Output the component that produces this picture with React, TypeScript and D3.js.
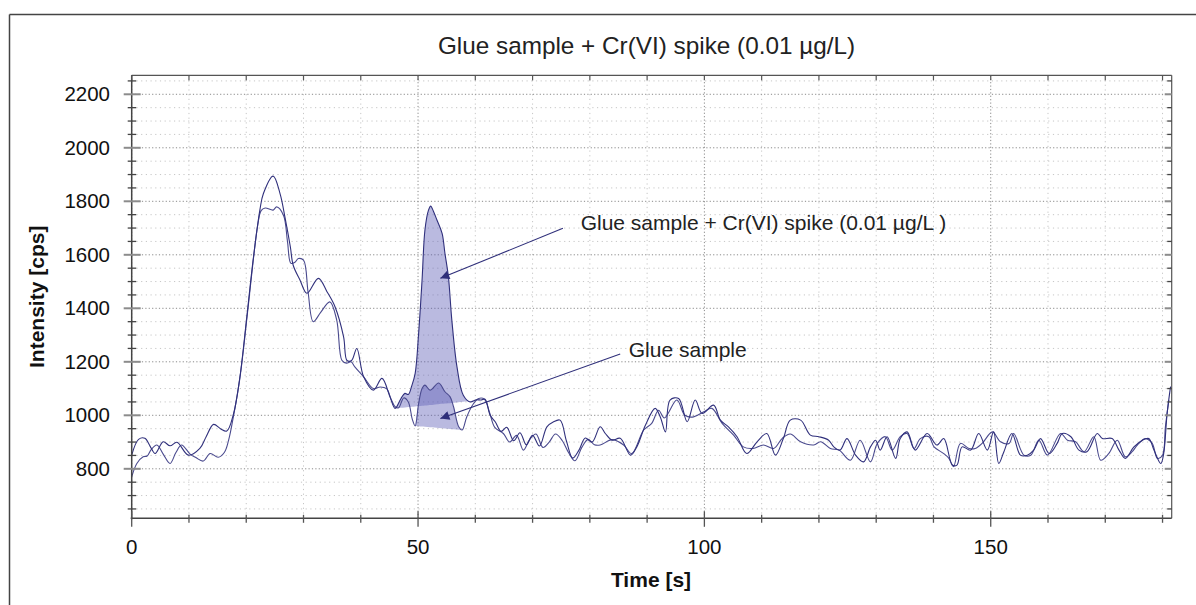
import React from "react";
import * as d3 from "d3";

// ---- data (time [s], intensity [cps]) ----
const spikeSeries: [number, number][] = [
  [0, 851], [1.2, 910], [2.3, 914], [3.2, 885], [4.1, 857], [5.5, 901], [6.7, 886], [7.9, 899], [9.9, 851],
  [11.9, 876], [13.0, 920], [14.3, 966], [15.5, 950], [16.6, 941], [17.8, 1007], [18.9, 1144], [20.1, 1368],
  [21.2, 1580], [22.4, 1770], [23.0, 1829], [24.7, 1894], [25.9, 1829], [26.8, 1736], [27.7, 1630], [28.2, 1561],
  [29.4, 1505], [30.6, 1456], [32.6, 1512], [34.1, 1462], [35.5, 1406], [37.0, 1293], [37.6, 1205], [38.4, 1205],
  [39.3, 1250], [40.5, 1144], [42.2, 1094], [43.7, 1138], [45.1, 1069], [46.0, 1026], [47.0, 1062], [47.7, 1082],
  [48.3, 1078], [48.9, 1110], [49.5, 1157], [50.1, 1306], [50.7, 1505], [51.2, 1692], [51.8, 1765], [52.2, 1782],
  [52.7, 1762], [53.3, 1730], [54.2, 1680], [54.7, 1605], [55.3, 1518], [55.9, 1356], [56.8, 1181], [57.9, 1075],
  [59.1, 1050], [60.2, 1058], [61.0, 1057], [61.7, 1060], [62.6, 1000], [63.5, 975], [64.5, 940], [65.5, 955],
  [66.7, 905], [67.8, 935], [68.9, 890], [70.0, 925], [71.2, 885], [72.5, 957], [73.6, 975], [74.8, 982],
  [75.9, 905], [77.0, 840], [78.1, 870], [79.2, 915], [80.4, 900], [81.8, 957], [82.7, 932], [83.9, 907],
  [85.3, 914], [87.1, 851], [88.2, 882], [89.7, 963], [91.4, 1026], [92.3, 994], [93.2, 938], [94.0, 1057],
  [95.5, 1063], [97.0, 976], [98.4, 1057], [99.6, 1007], [101.6, 1038], [102.8, 982], [104.2, 957], [105.7, 920],
  [107.4, 857], [109.2, 901], [110.9, 932], [112.4, 851], [113.8, 914], [115.0, 982], [116.8, 982], [118.5, 926],
  [120.0, 920], [121.7, 907], [122.6, 882], [123.7, 870], [124.9, 913], [126.4, 851], [127.8, 826], [129.0, 882],
  [129.9, 907], [130.7, 870], [131.9, 920], [133.4, 839], [134.2, 913], [135.4, 938], [136.8, 870], [138.9, 932],
  [140.6, 889], [141.8, 913], [143.3, 814], [144.1, 814], [145.0, 882], [146.5, 870], [147.9, 932], [149.4, 870],
  [150.5, 938], [151.4, 820], [152.3, 864], [153.7, 932], [155.2, 851], [156.4, 851], [157.5, 870], [158.7, 913],
  [160.2, 857], [161.6, 895], [162.5, 932], [164.0, 920], [165.4, 870], [166.8, 864], [168.6, 932], [169.5, 913],
  [171.2, 913], [172.4, 870], [173.5, 839], [175.0, 882], [176.5, 907], [177.6, 913], [178.5, 870], [179.7, 820],
  [180.2, 857], [180.8, 1007], [181.4, 1107],
];

const glueSeries: [number, number][] = [
  [0, 770], [0.9, 820], [2.0, 845], [2.7, 848], [3.4, 872], [4.4, 889], [5.5, 855], [6.7, 820], [7.7, 860],
  [8.7, 889], [10.2, 855], [11.2, 842], [12.5, 829], [13.7, 857], [15.1, 843], [16.2, 862], [16.9, 905],
  [17.8, 1000], [18.9, 1140], [20.1, 1360], [21.2, 1575], [22.0, 1710], [22.6, 1765], [23.3, 1775], [24.7, 1767],
  [25.3, 1779], [26.5, 1748], [27.2, 1650], [27.8, 1568], [28.5, 1572], [29.1, 1586], [30.0, 1580], [30.8, 1460],
  [31.7, 1350], [33.0, 1385], [34.6, 1424], [35.8, 1356], [36.7, 1206], [37.5, 1195], [38.3, 1200], [39.0, 1180],
  [40.5, 1144], [42.2, 1100], [43.4, 1106], [44.5, 1100], [45.3, 1060], [46.0, 1032], [46.6, 1028], [47.5, 1065],
  [48.3, 1050], [49.0, 985], [49.5, 960], [50.1, 1044], [50.7, 1100], [51.2, 1113], [52.1, 1094], [53.6, 1121],
  [54.7, 1088], [55.6, 1069], [56.2, 1032], [57.1, 957], [57.7, 945], [58.5, 994], [59.7, 1044], [60.6, 1063],
  [61.6, 1060], [62.5, 1010], [63.4, 955], [64.9, 932], [66.0, 900], [67.2, 925], [68.4, 870], [69.5, 910],
  [70.6, 930], [71.8, 880], [72.9, 900], [74.0, 930], [75.2, 905], [76.3, 860], [77.4, 830], [78.6, 880],
  [79.7, 910], [80.8, 890], [81.8, 889], [83.9, 909], [85.9, 889], [87.3, 857], [89.4, 945], [90.8, 970],
  [92.0, 1019], [93.0, 990], [95.2, 1057], [96.6, 1000], [98.1, 994], [99.9, 1013], [101.3, 1026], [103.1, 970],
  [105.1, 926], [106.8, 882], [108.5, 876], [110.3, 889], [112.1, 876], [113.6, 914], [115.0, 930], [116.8, 901],
  [119.1, 889], [120.3, 901], [122.0, 876], [123.5, 870], [125.5, 832], [127.2, 907], [129.0, 826], [130.2, 895],
  [131.6, 920], [132.8, 870], [134.2, 920], [135.4, 932], [136.6, 876], [137.7, 913], [139.2, 920], [140.1, 882],
  [141.8, 857], [142.7, 839], [143.5, 808], [144.7, 895], [146.2, 876], [147.3, 876], [148.5, 895], [150.3, 938],
  [151.7, 901], [153.2, 895], [154.0, 932], [155.8, 851], [157.0, 851], [158.4, 907], [159.9, 851], [162.2, 932],
  [163.4, 907], [164.8, 901], [166.3, 864], [168.0, 920], [169.2, 832], [170.6, 857], [172.1, 907], [173.5, 845],
  [174.7, 864], [175.6, 889], [177.0, 913], [178.2, 895], [179.1, 839], [180.0, 851], [180.5, 957], [181.1, 1057],
];

// integration windows [t0, t1] and baseline intensities [v0, v1]
const spikeWindow = [46.0, 61.0];
const spikeBaseline = [1026, 1057];
const glueWindow = [49.5, 57.7];
const glueBaseline = [960, 945];

const xTicksMajor = [0, 50, 100, 150];
const yTicksMajor = [800, 1000, 1200, 1400, 1600, 1800, 2000, 2200];

const titleText = "Glue sample + Cr(VI) spike (0.01 µg/L)";
const xLabel = "Time [s]";
const yLabel = "Intensity [cps]";

// annotations: text, text anchor point (t, v), arrow start (t, v), arrow tip (t, v)
const annoTexts = ["Glue sample + Cr(VI) spike (0.01 µg/L )", "Glue sample"];
const annoTextPos: [number, number][] = [[78.4, 1692], [86.8, 1219]];
const annoArrowFrom: [number, number][] = [[75.3, 1699], [85.3, 1229]];
const annoArrowTo: [number, number][] = [[53.9, 1512], [53.9, 988]];

export default function App() {
  const W = 1196, H = 605;
  const left = 131.7, right = 1171.7, top = 75.3, bottom = 518.3;
  const x = d3.scaleLinear().domain([0, 181.6]).range([left, right]);
  const y = d3.scaleLinear().domain([615, 2271]).range([bottom, top]);

  const line = d3.line<[number, number]>().x(d => x(d[0])).y(d => y(d[1])).curve(d3.curveCatmullRom.alpha(0.5));

  const mkArea = (series: [number, number][], win: number[], base: number[]) => {
    const pts = series.filter(d => d[0] >= win[0] - 1e-9 && d[0] <= win[1] + 1e-9);
    const bl = d3.scaleLinear().domain(win).range(base);
    return d3.area<[number, number]>()
      .x(d => x(d[0]))
      .y0(d => y(bl(d[0])))
      .y1(d => y(d[1]))
      .curve(d3.curveCatmullRom.alpha(0.5))(pts) || "";
  };

  const xMinor = d3.range(0, 181, 10);
  const yMinor = d3.range(650, 2271, 50);
  const font = "'Liberation Sans', Arial, Helvetica, sans-serif";
  const navy = "#2f2f7a";

  return (
    <svg width={W} height={H} style={{ position: "absolute", left: 0, top: 0, background: "#fff" }} fontFamily={font}>
      <defs>
        <clipPath id="plotclip">
          <rect x={left} y={top} width={right - left} height={bottom - top} />
        </clipPath>
        <marker id="arrowhead" viewBox="0 0 10 10" refX="10" refY="5" markerWidth="11" markerHeight="9" markerUnits="userSpaceOnUse" orient="auto">
          <path d="M0,0 L10,5 L0,10 z" fill={navy} />
        </marker>
      </defs>
      {/* outer frame */}
      <line x1={9.5} y1={14.5} x2={W} y2={14.5} stroke="#444" strokeWidth={1.5} />
      <line x1={9.5} y1={14.5} x2={9.5} y2={H} stroke="#444" strokeWidth={1.5} />

      {/* grid */}
      {xMinor.map(t => (
        <line key={"gx" + t} x1={x(t)} x2={x(t)} y1={top} y2={bottom}
          stroke={t % 50 === 0 ? "#8a8a8a" : "#c6c6c6"} strokeWidth={1} strokeDasharray={t % 50 === 0 ? "1.2 2.2" : "1.2 3.5"} />
      ))}
      {yMinor.map(v => (
        <line key={"gy" + v} x1={left} x2={right} y1={y(v)} y2={y(v)}
          stroke={v % 200 === 0 ? "#8a8a8a" : "#c6c6c6"} strokeWidth={1} strokeDasharray={v % 200 === 0 ? "1.2 2.2" : "1.2 3.5"} />
      ))}

      {/* integrated areas and traces */}
      <g clipPath="url(#plotclip)">
        <path d={mkArea(spikeSeries, spikeWindow, spikeBaseline)} fill="#5a5ab4" fillOpacity={0.42} stroke="none" />
        <path d={mkArea(glueSeries, glueWindow, glueBaseline)} fill="#5a5ab4" fillOpacity={0.42} stroke="none" />
        <path d={line(glueSeries) || ""} fill="none" stroke="#4a4a8e" strokeWidth={1.1} />
        <path d={line(spikeSeries) || ""} fill="none" stroke="#30307c" strokeWidth={1.1} />
      </g>

      {/* plot frame */}
      <line x1={left} x2={right} y1={top} y2={top} stroke="#555" strokeWidth={1.2} />
      <line x1={right} x2={right} y1={top} y2={bottom} stroke="#555" strokeWidth={1.2} />
      <line x1={left} x2={left} y1={top} y2={bottom + 1} stroke="#444" strokeWidth={1.5} />
      <line x1={left - 1} x2={right} y1={bottom} y2={bottom} stroke="#444" strokeWidth={1.5} />

      {/* x ticks bottom & top */}
      {xMinor.map(t => {
        const major = xTicksMajor.includes(t);
        return (
          <g key={"xt" + t}>
            <line x1={x(t)} x2={x(t)} y1={major ? bottom - 7 : bottom - 3.5} y2={major ? bottom + 8.5 : bottom + 4.5}
              stroke="#555" strokeWidth={1.3} />
            <line x1={x(t)} x2={x(t)} y1={top} y2={top + 5} stroke="#555" strokeWidth={1.2} />
          </g>
        );
      })}
      {/* y ticks left & right */}
      {yMinor.map(v => {
        const major = yTicksMajor.includes(v);
        return (
          <g key={"yt" + v}>
            <line x1={major ? left - 8 : left - 4} x2={major ? left + 9 : left + 4.5} y1={y(v)} y2={y(v)}
              stroke={major ? "#8c8c8c" : "#444"} strokeWidth={major ? 2 : 1.3} />
            <line x1={major ? right - 7 : right - 4.5} x2={right} y1={y(v)} y2={y(v)}
              stroke={major ? "#8c8c8c" : "#444"} strokeWidth={major ? 2 : 1.3} />
          </g>
        );
      })}

      {/* tick labels */}
      {yTicksMajor.map(v => (
        <text key={"yl" + v} x={110} y={y(v)} dy="0.35em" textAnchor="end" fontSize={20.5} fill="#111">{v}</text>
      ))}
      {xTicksMajor.map(t => (
        <text key={"xl" + t} x={x(t)} y={554} textAnchor="middle" fontSize={20.5} fill="#111">{t}</text>
      ))}

      {/* titles */}
      <text x={646.5} y={54} textAnchor="middle" fontSize={24.3} fill="#222">{titleText}</text>
      <text x={651} y={587} textAnchor="middle" fontSize={21} fontWeight="bold" fill="#111">{xLabel}</text>
      <text transform={`translate(43.5, ${(top + bottom) / 2}) rotate(-90)`} textAnchor="middle" fontSize={21} fontWeight="bold" fill="#111">{yLabel}</text>

      {/* annotations */}
      {annoTexts.map((s, i) => (
        <g key={"an" + i}>
          <line x1={x(annoArrowFrom[i][0])} y1={y(annoArrowFrom[i][1])} x2={x(annoArrowTo[i][0])} y2={y(annoArrowTo[i][1])}
            stroke={navy} strokeWidth={1.1} markerEnd="url(#arrowhead)" />
          <text x={x(annoTextPos[i][0])} y={y(annoTextPos[i][1])} fontSize={21} fill="#222">{s}</text>
        </g>
      ))}
    </svg>
  );
}
